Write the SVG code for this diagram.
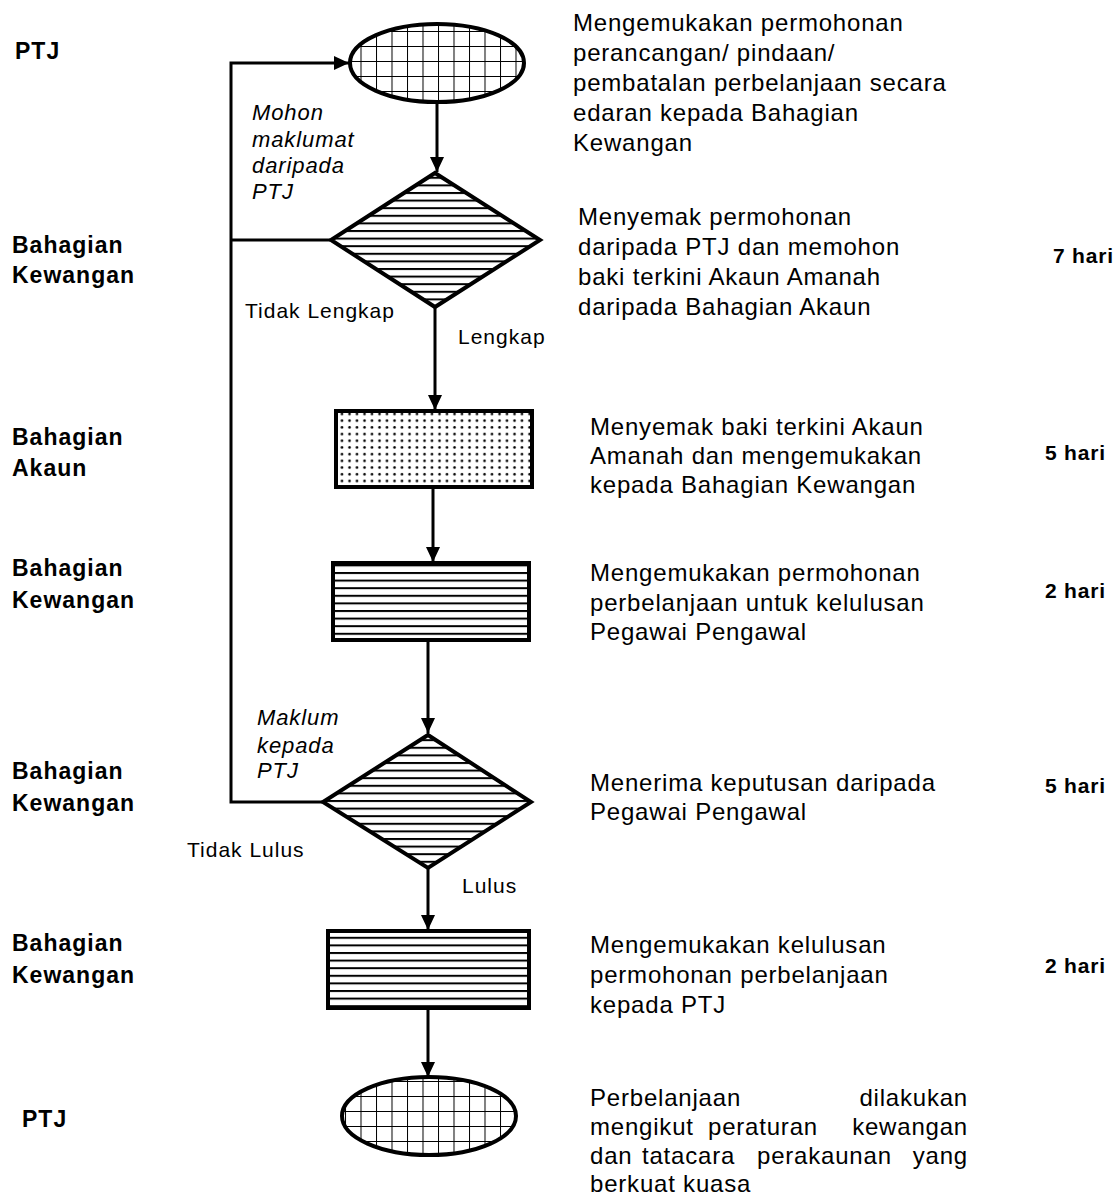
<svg xmlns="http://www.w3.org/2000/svg" width="1117" height="1195" viewBox="0 0 1117 1195">
  <defs>
    <style>
      .lane { font-family: "Liberation Sans", Arial, sans-serif; font-size: 23px; font-weight: bold; letter-spacing: 1px; fill: #000; }
      .desc { font-family: "Liberation Sans", Arial, sans-serif; font-size: 24px; letter-spacing: 0.8px; fill: #000; }
      .days { font-family: "Liberation Sans", Arial, sans-serif; font-size: 21px; font-weight: bold; letter-spacing: 0.8px; fill: #000; }
      .lbl { font-family: "Liberation Sans", Arial, sans-serif; font-size: 21px; letter-spacing: 1px; fill: #000; }
      .note { font-family: "Liberation Sans", Arial, sans-serif; font-size: 22px; font-style: italic; letter-spacing: 0.9px; fill: #000; }
      .edge { fill: none; stroke: #000; stroke-width: 3; }
      .shape { stroke: #000; stroke-width: 4; }
    </style>
    <pattern id="grid" patternUnits="userSpaceOnUse" width="15.5" height="15" x="4" y="1">
      <rect width="15.5" height="15" fill="#fff"/>
      <path d="M0 0H15.5M0 0V15" stroke="#000" stroke-width="2"/>
    </pattern>
    <pattern id="stripes" patternUnits="userSpaceOnUse" width="10" height="7.6" y="2">
      <rect width="10" height="7.6" fill="#fff"/>
      <path d="M0 1H10" stroke="#000" stroke-width="2"/>
    </pattern>
    <pattern id="dots" patternUnits="userSpaceOnUse" width="7.5" height="6.7" x="1" y="2">
      <rect width="7.5" height="6.7" fill="#fff"/>
      <circle cx="3.5" cy="3.3" r="1.3" fill="#000"/>
    </pattern>
    <marker id="arrow" markerUnits="userSpaceOnUse" markerWidth="16" markerHeight="14" refX="15" refY="7" orient="auto">
      <path d="M0 0L15 7L0 14Z" fill="#000"/>
    </marker>
  </defs>

  <!-- swimlane labels -->
  <g id="lanes">
    <text class="lane" x="15" y="59">PTJ</text>
    <text class="lane" x="12" y="253">Bahagian</text>
    <text class="lane" x="12" y="283">Kewangan</text>
    <text class="lane" x="12" y="445">Bahagian</text>
    <text class="lane" x="12" y="476">Akaun</text>
    <text class="lane" x="12" y="576">Bahagian</text>
    <text class="lane" x="12" y="608">Kewangan</text>
    <text class="lane" x="12" y="779">Bahagian</text>
    <text class="lane" x="12" y="811">Kewangan</text>
    <text class="lane" x="12" y="951">Bahagian</text>
    <text class="lane" x="12" y="983">Kewangan</text>
    <text class="lane" x="22" y="1127">PTJ</text>
  </g>

  <!-- connectors -->
  <g id="connectors">
    <path class="edge" d="M437 103V172" marker-end="url(#arrow)"/>
    <path class="edge" d="M435 307V410" marker-end="url(#arrow)"/>
    <path class="edge" d="M433 488V562" marker-end="url(#arrow)"/>
    <path class="edge" d="M428 641V733" marker-end="url(#arrow)"/>
    <path class="edge" d="M428 868V930" marker-end="url(#arrow)"/>
    <path class="edge" d="M428 1009V1077" marker-end="url(#arrow)"/>
    <!-- return loop to the applicant -->
    <path class="edge" d="M322 802H231V63H349" marker-end="url(#arrow)"/>
    <path class="edge" d="M330 240H231"/>
  </g>

  <!-- nodes -->
  <g id="start">
    <ellipse class="shape" cx="437" cy="63" rx="87" ry="39" fill="url(#grid)"/>
  </g>
  <g id="check-request">
    <path class="shape" d="M435 173L540 240L435 307L331 240Z" fill="url(#stripes)"/>
  </g>
  <g id="check-balance">
    <rect class="shape" x="336" y="411" width="196" height="76" fill="url(#dots)"/>
  </g>
  <g id="submit-approval">
    <rect class="shape" x="333" y="563" width="196" height="77" fill="url(#stripes)"/>
  </g>
  <g id="decision">
    <path class="shape" d="M428 735L531 802L428 868L323 802Z" fill="url(#stripes)"/>
  </g>
  <g id="send-approval">
    <rect class="shape" x="328" y="931" width="201" height="77" fill="url(#stripes)"/>
  </g>
  <g id="end">
    <ellipse class="shape" cx="429" cy="1116" rx="87" ry="39" fill="url(#grid)"/>
  </g>

  <!-- connector labels -->
  <g id="labels">
    <text class="note" x="252" y="120">Mohon</text>
    <text class="note" x="252" y="147">maklumat</text>
    <text class="note" x="252" y="173">daripada</text>
    <text class="note" x="252" y="199">PTJ</text>
    <text class="lbl" x="245" y="318">Tidak Lengkap</text>
    <text class="lbl" x="458" y="344">Lengkap</text>
    <text class="note" x="257" y="725">Maklum</text>
    <text class="note" x="257" y="753">kepada</text>
    <text class="note" x="257" y="778">PTJ</text>
    <text class="lbl" x="187" y="857">Tidak Lulus</text>
    <text class="lbl" x="462" y="893">Lulus</text>
  </g>

  <!-- step descriptions -->
  <g id="descriptions">
    <text class="desc" x="573" y="31">Mengemukakan permohonan</text>
    <text class="desc" x="573" y="61">perancangan/ pindaan/</text>
    <text class="desc" x="573" y="91">pembatalan perbelanjaan secara</text>
    <text class="desc" x="573" y="121">edaran kepada Bahagian</text>
    <text class="desc" x="573" y="151">Kewangan</text>

    <text class="desc" x="578" y="225">Menyemak permohonan</text>
    <text class="desc" x="578" y="255">daripada PTJ dan memohon</text>
    <text class="desc" x="578" y="285">baki terkini Akaun Amanah</text>
    <text class="desc" x="578" y="315">daripada Bahagian Akaun</text>

    <text class="desc" x="590" y="435">Menyemak baki terkini Akaun</text>
    <text class="desc" x="590" y="464">Amanah dan mengemukakan</text>
    <text class="desc" x="590" y="493">kepada Bahagian Kewangan</text>

    <text class="desc" x="590" y="581">Mengemukakan permohonan</text>
    <text class="desc" x="590" y="611">perbelanjaan untuk kelulusan</text>
    <text class="desc" x="590" y="640">Pegawai Pengawal</text>

    <text class="desc" x="590" y="791">Menerima keputusan daripada</text>
    <text class="desc" x="590" y="820">Pegawai Pengawal</text>

    <text class="desc" x="590" y="953">Mengemukakan kelulusan</text>
    <text class="desc" x="590" y="983">permohonan perbelanjaan</text>
    <text class="desc" x="590" y="1013">kepada PTJ</text>

    <!-- justified block -->
    <text class="desc" x="590" y="1106">Perbelanjaan</text>
    <text class="desc" x="968" y="1106" text-anchor="end">dilakukan</text>
    <text class="desc" x="590" y="1135">mengikut</text>
    <text class="desc" x="708" y="1135">peraturan</text>
    <text class="desc" x="968" y="1135" text-anchor="end">kewangan</text>
    <text class="desc" x="590" y="1164">dan</text>
    <text class="desc" x="642" y="1164">tatacara</text>
    <text class="desc" x="757" y="1164">perakaunan</text>
    <text class="desc" x="968" y="1164" text-anchor="end">yang</text>
    <text class="desc" x="590" y="1192">berkuat kuasa</text>
  </g>

  <!-- durations -->
  <g id="durations">
    <text class="days" x="1053" y="263">7 hari</text>
    <text class="days" x="1045" y="460">5 hari</text>
    <text class="days" x="1045" y="598">2 hari</text>
    <text class="days" x="1045" y="793">5 hari</text>
    <text class="days" x="1045" y="973">2 hari</text>
  </g>
</svg>
